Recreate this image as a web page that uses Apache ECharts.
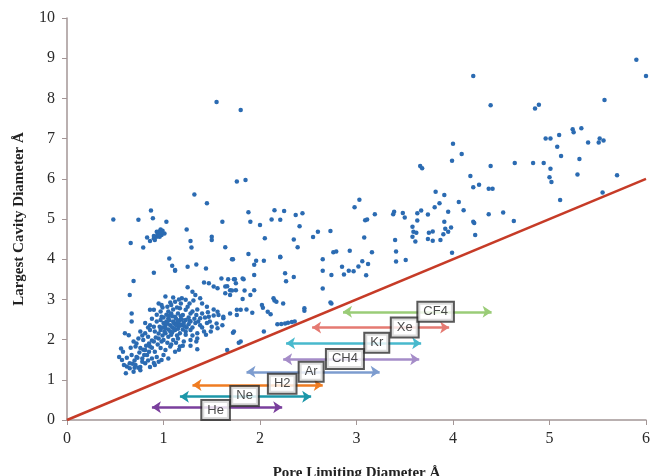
<!DOCTYPE html>
<html>
<head>
<meta charset="utf-8">
<script src="https://cdn.jsdelivr.net/npm/echarts@6/dist/echarts.min.js"></script>
<style>
html,body{margin:0;padding:0;background:#fff;}
#chart{width:650px;height:476px;}
</style>
</head>
<body>
<div id="chart"></div>
<script>
// Pore limiting diameter (x) vs largest cavity diameter (y), in Å
const structures = [
[1.55,7.91],[1.80,7.71],[4.21,8.56],[5.90,8.96],[6.0,8.56],[4.39,7.83],[4.85,7.75],[4.89,7.84],[5.57,7.96],
[5.24,7.23],[5.25,7.16],[5.33,7.26],[4.96,7.0],[5.01,7.0],[5.10,7.09],[5.40,6.90],[5.51,6.90],[5.52,7.0],[5.56,6.95],
[5.08,6.80],[5.12,6.57],[4.0,6.87],[4.09,6.62],[3.99,6.45],[4.39,6.32],[4.64,6.39],[4.83,6.39],[4.94,6.39],[5.01,6.25],
[5.31,6.49],[5.29,6.11],[5.0,6.04],[5.02,5.92],[5.70,6.09],[5.11,5.47],[5.55,5.66],[4.18,6.07],[4.21,5.79],[4.27,5.85],
[4.37,5.75],[4.41,5.75],[3.66,6.32],[3.68,6.26],[3.82,5.68],[3.91,5.60],[3.86,5.39],[3.81,5.29],[3.74,5.11],[3.67,5.21],
[4.06,5.42],[4.11,5.22],[3.95,5.18],[4.37,5.12],[4.52,5.16],[4.63,4.95],[4.21,4.93],[4.22,4.90],[4.23,4.60],[3.91,4.93],
[3.98,4.79],[3.92,4.76],[3.95,4.68],[3.90,4.62],[3.87,4.48],[3.79,4.69],[3.75,4.66],[3.74,4.50],[3.79,4.46],[3.99,4.16],
[2.25,5.2],[2.37,5.10],[2.44,5.14],[2.21,4.98],[2.41,4.82],[2.35,4.49],[2.39,4.30],[2.55,4.55],[2.60,4.68],[2.73,4.70],
[2.21,4.06],[2.26,3.65],[2.27,3.45],[2.35,3.56],[2.65,4.0],[2.65,3.71],[2.65,3.27],[2.76,4.17],[2.79,4.19],[2.74,3.61],
[2.74,2.90],[2.85,3.81],[2.87,3.62],[2.92,3.71],[2.97,3.70],[3.02,3.82],[3.06,3.95],[2.93,4.21],[3.10,3.60],[3.12,3.88],
[3.16,4.17],[3.08,4.54],[3.09,4.97],[3.11,4.99],[2.98,5.29],[3.03,5.48],[3.19,5.12],[3.38,5.12],[3.39,5.18],[3.48,5.15],
[3.50,5.04],[3.40,4.48],[3.41,4.19],[3.41,3.94],[3.51,3.98],[3.58,4.81],[3.59,4.68],[3.62,4.66],[3.58,4.56],[3.61,4.44],
[3.63,4.96],[3.63,5.14],[2.46,2.78],[2.73,2.92],
[1.76,5.93],[1.85,5.97],[1.88,5.17],[1.90,4.93],[2.0,4.85],[2.15,5.22],[2.12,4.99],[2.05,4.52],[1.88,4.13],[1.71,4.0],
[1.96,3.96],[1.94,3.86],[2.04,3.96],[2.21,4.05],[1.74,3.50],[1.83,3.50],[1.69,3.23],[1.84,3.22],[1.94,3.23],[1.82,3.01],
[1.86,2.75],[1.76,2.61],[1.92,2.67],[2.03,2.79],[2.11,2.63],[2.15,2.97],[2.17,2.94],[2.24,2.90],[2.46,2.72],
[2.18,2.38],[2.22,2.39],[2.26,2.40],[2.29,2.42],[2.33,2.44],[2.36,2.45],
[1.62,2.53],[1.69,2.65],[1.80,2.74],[1.90,3.11],[2.02,2.86],[2.08,2.69],[2.14,3.03],[1.66,1.74],[1.80,1.95],[2.04,2.20],
[1.72,2.17],[1.35,1.76],[1.78,1.92],
[1.32,5.61],[1.45,5.39],[0.48,4.99],[0.74,4.98],[0.87,5.21],[0.89,5.02],[1.03,4.93],[1.61,4.93],
[0.83,4.54],[0.86,4.45],[0.90,4.52],[0.91,4.48],[0.93,4.56],[0.95,4.68],[0.97,4.74],[0.99,4.71],[1.01,4.64],[0.98,4.60],
[0.93,4.68],[0.96,4.56],[0.90,4.58],[0.94,4.62],[0.97,4.66],
[0.66,4.40],[0.79,4.29],[1.24,4.74],[1.28,4.45],[1.29,4.29],[1.50,4.56],[1.50,4.48],[1.64,4.30],[1.72,4.0],[1.06,4.02],
[1.09,3.84],[1.25,3.81],[1.34,3.87],[1.44,3.77],
[1.60,3.52],[1.67,3.50],[1.73,3.50],[1.82,3.52],[1.52,3.32],[1.56,3.28],[1.64,3.32],[1.75,3.23],[1.42,3.42],[1.47,3.40],
[1.12,3.71],[0.90,3.66],[0.69,3.46],[0.65,3.11],[1.94,3.61],[1.12,3.73],
[1.25,3.30],[1.30,3.19],[1.33,3.11],[1.66,3.33],[1.71,3.22],[1.64,3.15],[1.69,3.11],[1.75,3.40],
[1.02,3.07],[1.10,3.05],[1.19,3.03],[0.95,2.90],[0.98,2.86],[1.04,2.82],[1.08,2.86],[1.12,2.94],[0.86,2.74],[0.90,2.74],
[1.23,2.99],[1.27,2.90],[1.31,2.97],[1.38,3.03],[1.40,2.90],[1.45,2.82],[1.52,2.75],[1.56,2.69],[1.57,2.61],[1.62,2.57],
[1.61,2.36],[1.56,2.28],[1.49,2.20],[1.76,2.74],[1.73,2.20],[0.67,2.65],[0.67,2.45],[0.60,2.16],[0.64,2.11],
[0.56,1.78],[0.58,1.70],[0.54,1.57],[0.57,1.49],[0.59,1.37],[0.62,1.33],[0.65,1.29],[0.61,1.16],
[0.97,2.70],[1.05,2.70],[1.08,2.65],[1.15,2.65],[1.20,2.61],[1.28,2.65],[1.34,2.61],[1.38,2.53],[1.47,2.57],[0.98,2.57],
[1.05,2.53],[1.12,2.57],[1.17,2.78],[1.23,2.74],
[0.81,2.41],[0.86,2.36],[0.93,2.45],[1.00,2.41],[1.03,2.45],[1.07,2.36],[1.10,2.45],[1.14,2.41],[1.19,2.36],[1.23,2.49],
[1.28,2.45],[1.33,2.41],[1.38,2.36],[1.45,2.41],[1.50,2.32],[0.90,2.32],[0.97,2.49],[1.17,2.49],
[0.76,2.20],[0.81,2.16],[0.86,2.24],[0.91,2.20],[0.97,2.24],[1.02,2.16],[1.07,2.20],[1.12,2.24],[1.17,2.16],[1.23,2.20],
[1.28,2.24],[1.35,2.16],[1.42,2.20],[1.02,2.28],[1.09,2.30],[1.15,2.27],
[0.74,2.03],[0.79,1.99],[0.84,2.07],[0.90,1.95],[0.95,2.03],[1.00,1.99],[1.05,2.07],[1.10,1.99],[1.15,2.03],[1.21,1.95],
[1.28,1.99],[1.35,2.03],[0.69,1.95],
[0.71,1.83],[0.76,1.79],[0.81,1.74],[0.86,1.83],[0.91,1.70],[0.97,1.79],[1.02,1.74],[1.07,1.83],[1.12,1.70],[1.17,1.83],
[0.67,1.62],[0.72,1.57],[0.78,1.53],[0.83,1.62],[0.88,1.53],[0.93,1.57],[0.98,1.49],[1.05,1.53],
[0.65,1.41],[0.71,1.37],[0.76,1.32],[0.81,1.41],[0.86,1.32],[0.91,1.37],[0.69,1.20],[0.76,1.24],
[1.00,2.55],[1.03,2.62],[1.06,2.48],[1.09,2.58],[1.11,2.40],[1.13,2.52],[1.16,2.33],[1.18,2.58],[1.21,2.42],[1.24,2.30],
[1.26,2.55],[1.02,2.35],[1.05,2.25],[1.08,2.12],[1.11,2.27],[1.14,2.10],[1.17,2.38],[1.20,2.25],[1.23,2.12],[1.26,2.38],
[1.30,2.30],[1.32,2.52],[1.04,1.92],[1.08,1.88],[1.13,1.92],[0.99,2.10],[0.95,2.15],[0.92,2.05],[0.88,1.98],[0.85,1.90],
[0.82,1.85],[0.79,1.75],[0.75,1.68],[0.73,1.55],[0.70,1.48],[0.68,1.40],[0.80,1.62],[0.85,1.70],[0.88,1.80],[0.94,1.88],
[0.98,1.95],[0.96,2.32],[0.99,2.80],[1.10,2.75],[1.14,2.80],[1.18,2.90],[1.25,2.82],[1.30,2.70],[1.35,2.75],[1.40,2.65],
[1.43,2.55],[1.36,2.45],[1.40,2.30],[1.44,2.12],[1.30,2.10],[1.34,1.95],[1.28,1.85],[1.20,1.85],[1.16,1.75],[1.00,1.62],
[0.95,1.45],[0.90,1.42],[0.84,1.48],[0.78,1.45],[0.74,1.30],[0.70,1.30],[1.48,2.45],[1.52,2.60],[1.55,2.40],[1.46,2.68],
[1.07,2.92],[1.16,3.00],[0.93,2.62],[0.88,2.52],[0.84,2.30],[0.78,2.10],[0.72,1.90],[0.66,1.80],[0.62,1.55],
[1.04,2.40],[1.13,2.36],[1.19,2.50],[1.09,2.18],[1.22,2.33],[0.99,2.30],[1.06,2.60],[1.27,2.47],[1.15,2.45],[1.01,2.20]
];

// y = x reference line endpoints
const diagonal = [[0, 0], [6, 6]];

// gas kinetic-diameter ranges
const gasNames  = ['He', 'Ne', 'H2', 'Ar', 'CH4', 'Kr', 'Xe', 'CF4'];
const gasMin    = [0.88, 1.17, 1.30, 1.86, 2.24, 2.27, 2.54, 2.86];
const gasMax    = [2.23, 2.53, 2.65, 3.24, 3.65, 3.67, 3.96, 4.40];
const gasY      = [0.32, 0.58, 0.87, 1.20, 1.51, 1.91, 2.30, 2.69];
const gasLabelX = [1.54, 1.84, 2.23, 2.53, 2.88, 3.21, 3.50, 3.82];
const gasLabelY = [0.25, 0.60, 0.90, 1.20, 1.52, 1.92, 2.30, 2.69];
const gasColors = ['#7a3f9d', '#1c97a9', '#ef7c22', '#7d9ccf', '#a58cc8', '#48b9cd', '#e57a72', '#9acc77'];

const xTicks = [0, 1, 2, 3, 4, 5, 6];
const yTicks = [0, 1, 2, 3, 4, 5, 6, 7, 8, 9, 10];

const serif = '"Liberation Serif", "DejaVu Serif", serif';
const axisColor = '#a39696';

const chart = echarts.init(document.getElementById('chart'), null, {renderer: 'canvas'});

const option = {
  backgroundColor: '#ffffff',
  animation: false,
  grid: {left: 67, right: 4, top: 18, bottom: 56, containLabel: false, outerBoundsMode: 'none'},
  xAxis: {
    type: 'value',
    min: xTicks[0], max: xTicks[xTicks.length - 1], interval: 1,
    name: 'Pore Limiting Diameter Å',
    nameLocation: 'middle', nameGap: 46,
    nameTextStyle: {fontFamily: serif, fontWeight: 'bold', fontSize: 15, color: '#222'},
    axisLine: {show: true, lineStyle: {color: axisColor, width: 1.5}},
    axisTick: {show: true, length: 5, inside: false, lineStyle: {color: axisColor}},
    axisLabel: {fontFamily: serif, fontSize: 16, color: '#2a2a2a', margin: 11},
    splitLine: {show: false}
  },
  yAxis: {
    type: 'value',
    min: yTicks[0], max: yTicks[yTicks.length - 1], interval: 1,
    name: 'Largest Cavity Diameter Å',
    nameLocation: 'middle', nameGap: 40,
    nameTextStyle: {fontFamily: serif, fontWeight: 'bold', fontSize: 15, color: '#222'},
    axisLine: {show: true, lineStyle: {color: axisColor, width: 1.5}},
    axisTick: {show: true, length: 5, inside: false, lineStyle: {color: axisColor}},
    axisLabel: {fontFamily: serif, fontSize: 16, color: '#2a2a2a', margin: 12},
    splitLine: {show: false}
  },
  series: [
    {
      type: 'scatter',
      data: structures,
      symbol: 'circle',
      symbolSize: 4.5,
      itemStyle: {color: '#2b6bb2', opacity: 1},
      z: 2
    },
    {
      type: 'line',
      data: diagonal,
      symbol: 'none',
      lineStyle: {color: '#c63b27', width: 2.5},
      z: 3
    },
    {
      type: 'lines',
      coordinateSystem: 'cartesian2d',
      symbol: ['arrow', 'arrow'],
      symbolSize: 9,
      z: 4,
      lineStyle: {opacity: 1, width: 2.5},
      data: gasNames.map((n, i) => ({
        coords: [[gasMin[i], gasY[i]], [gasMax[i], gasY[i]]],
        lineStyle: {color: gasColors[i], width: 2.5, opacity: 1}
      }))
    },
    {
      type: 'scatter',
      symbolSize: 1,
      itemStyle: {color: 'rgba(0,0,0,0)'},
      z: 6,
      data: gasNames.map((n, i) => ({name: n, value: [gasLabelX[i], gasLabelY[i]]})),
      label: {
        show: true,
        position: 'inside',
        formatter: p => p.name,
        fontFamily: '"Liberation Sans", Arial, sans-serif',
        fontSize: 13,
        color: '#1a1a1a',
        backgroundColor: '#ffffff',
        borderColor: '#2e2e2e',
        borderWidth: 2,
        padding: [3, 5, 2, 5]
      }
    }
  ]
};
chart.setOption(option);
</script>
</body>
</html>
